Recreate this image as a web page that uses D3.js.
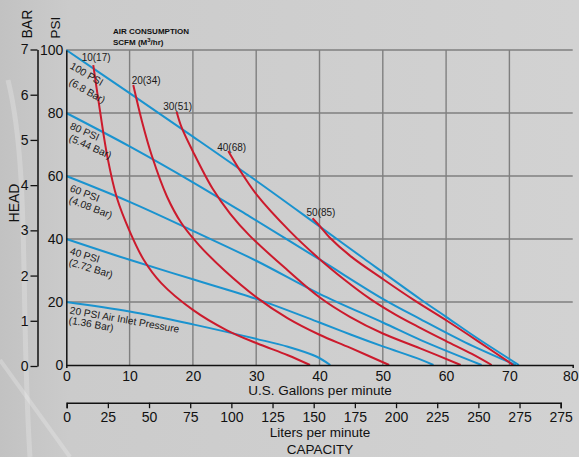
<!DOCTYPE html>
<html><head><meta charset="utf-8">
<script src="https://cdn.jsdelivr.net/npm/d3@7"></script>
<style>
html,body{margin:0;padding:0;background:#cdcdcd;}
svg{display:block;font-family:"Liberation Sans",Arial,Helvetica,sans-serif;}
</style></head><body>
<svg id="chart" width="579" height="457"></svg>
<script>
// ---------- data ----------
const gallonTicks = [0,10,20,30,40,50,60,70,80];
const psiTicks = [0,20,40,60,80,100];
const barTicks = [0,1,2,3,4,5,6,7];
const literTicks = [0,25,50,75,100,125,150,175,200,225,250,275,300];
const literTickLabels = ["0","25","50","75","100","125","150","175","200","225","250","275","275"];

const pressureValues = [100,80,60,40,20];
const pressureNames = ["100 PSI","80 PSI","60 PSI","40 PSI","20 PSI Air Inlet Pressure"];
const pressureBars = ["(6.8 Bar)","(5.44 Bar)","(4.08 Bar)","(2.72 Bar)","(1.36 Bar)"];

// air inlet pressure curves: [gpm, psi head]
const psi100 = [[0,100],[10,86.3],[20,72.5],[30,58.5],[40,44],[47,33.8],[56,20.8],[60,15.3],[65,8.4],[71.5,0]];
const psi80  = [[0,80],[10,69.4],[20,58],[29,47.1],[40,33.5],[50,21],[56,14.5],[63,7.2],[71,0]];
const psi60  = [[0,60],[10,51.8],[20,42.6],[30,33.1],[40,22.6],[50,13.5],[56,7.9],[65.6,0]];
const psi40  = [[0,40],[10,33.4],[20,27.2],[30,21],[40,13.5],[45,9.6],[50,5.9],[55.9,1.8],[58,0]];
const psi20  = [[0,20],[10,17],[20,12.9],[30,8.3],[35,5.8],[39.5,2.7],[41.7,0]];

// air consumption curves (SCFM): [gpm, psi head]
const scfm10 = [[4.26,95.2],[5.3,81],[6.5,66],[8,53],[10,42.5],[12.2,33.5],[15,26],[20,17.5],[25.3,11.1],[30.1,6.9],[35,3.1],[38.5,0]];
const scfm20 = [[10.58,88.9],[12,77],[13.5,66.5],[15.9,53.5],[18.2,45],[21,38],[25,30],[30.1,21.4],[35,14.8],[40,9.6],[44.8,5.5],[51,0]];
const scfm30 = [[17.43,80.4],[18.2,75.5],[20,67.8],[23.1,56],[25.9,48],[29,41],[35,30],[40,21.5],[44.8,15.3],[50,10],[55.9,5.3],[62.3,0]];
const scfm40 = [[25.58,67.9],[27.2,62.5],[30.1,54],[35.3,42.5],[39.8,34],[44,27],[48,21],[52,16],[55.9,11.8],[60,7.6],[64,3.6],[67.2,0]];
const scfm50 = [[38.9,46.6],[40,44.2],[41.6,40.5],[45,34.4],[50,27.3],[55,20.5],[60,14.2],[65,7.6],[70.6,0]];
const scfmLabels = ["10(17)","20(34)","30(51)","40(68)","50(85)"];

// ---------- layout / style ----------
const BLUE = "#1a93cf", RED = "#cc1a2c", GRID = "#7f7f7f";
const X0 = 66.3, X1 = 572.7, Y0 = 365, Y1 = 50;
const scfmLabelOffset = [[-11.6,-4.5],[-1.6,-0.7],[-13.4,-1.7],[-11,-0.5],[-6,-1.8]];
const pLabelAngle = [30,24,21,17,10];
const pLabelDy1 = [18,15.5,15,15,11.5];
const pLabelDy2 = [34,27.5,26.5,26,21.5];

const svg = d3.select("#chart");

// background
const defs = svg.append("defs");
const bg = defs.append("linearGradient").attr("id","bg").attr("x1","0").attr("x2","1").attr("y1","0").attr("y2","0");
bg.append("stop").attr("offset","0%").attr("stop-color","#c2c2c2");
bg.append("stop").attr("offset","12%").attr("stop-color","#cbcbcb");
bg.append("stop").attr("offset","100%").attr("stop-color","#d2d2d2");
svg.append("rect").attr("width",579).attr("height",457).attr("fill","url(#bg)");
// faint light streaks (decoration)
svg.append("path").attr("d","M8,80 C30,170 20,300 30,457").attr("fill","none").attr("stroke","#ffffff").attr("stroke-opacity",0.22).attr("stroke-width",5);
svg.append("path").attr("d","M0,360 L70,457").attr("fill","none").attr("stroke","#ffffff").attr("stroke-opacity",0.22).attr("stroke-width",4);

// scales
const x = d3.scaleLinear().domain([0,80]).range([X0,X1]);
const y = d3.scaleLinear().domain([0,100]).range([Y0,Y1]);
const yBar = d3.scaleLinear().domain([0,7]).range([366,49.5]);
const xLit = d3.scaleLinear().domain([0,300]).range([66.7,560.7]);

// gridlines
svg.append("g").selectAll("line").data(gallonTicks.filter(d=>d>0 && d<80)).join("line")
  .attr("x1",d=>x(d)).attr("x2",d=>x(d)).attr("y1",y(100)).attr("y2",y(0))
  .attr("stroke",GRID).attr("stroke-width",1.4);
svg.append("g").selectAll("line").data(psiTicks.filter(d=>d>0)).join("line")
  .attr("x1",x(0)).attr("x2",x(80)).attr("y1",d=>y(d)).attr("y2",d=>y(d))
  .attr("stroke",GRID).attr("stroke-width",1.4);

// curves
const line = d3.line().x(d=>x(d[0])).y(d=>y(d[1])).curve(d3.curveCatmullRom.alpha(0.5));
const pressureCurves = [psi100,psi80,psi60,psi40,psi20];
const scfmCurves = [scfm10,scfm20,scfm30,scfm40,scfm50];

svg.append("g").selectAll("path").data(pressureCurves).join("path")
  .attr("d",line).attr("fill","none").attr("stroke",BLUE).attr("stroke-width",2);
svg.append("g").selectAll("path").data(scfmCurves).join("path")
  .attr("d",line).attr("fill","none").attr("stroke",RED).attr("stroke-width",2);

// pressure labels
const pl = svg.append("g").attr("font-size",10.2).attr("fill","#1a1a1a");
pressureValues.forEach((p,i)=>{
  const x1 = x(0)+3, y1 = y(p)+pLabelDy1[i];
  const x2 = x(0)+2, y2 = y(p)+pLabelDy2[i];
  pl.append("text").attr("transform",`translate(${x1},${y1}) rotate(${pLabelAngle[i]})`).text(pressureNames[i]);
  pl.append("text").attr("transform",`translate(${x2},${y2}) rotate(${pLabelAngle[i]})`).text(pressureBars[i]);
});

// scfm labels
svg.append("g").attr("font-size",10).attr("fill","#1a1a1a").selectAll("text").data(scfmCurves).join("text")
  .attr("x",(d,i)=>x(d[0][0])+scfmLabelOffset[i][0])
  .attr("y",(d,i)=>y(d[0][1])+scfmLabelOffset[i][1])
  .text((d,i)=>scfmLabels[i]);

// axes
function styleAxis(g){
  g.selectAll("path.domain").attr("stroke","#111").attr("stroke-width",1.5);
  g.selectAll(".tick line").attr("stroke","#111").attr("stroke-width",1.3);
  g.selectAll("text").attr("fill","#111").attr("font-size",14).attr("font-family",null);
}
// PSI axis
svg.append("g").attr("transform",`translate(${X0},0)`)
  .call(d3.axisLeft(y).tickValues(psiTicks).tickSizeInner(0).tickSizeOuter(0).tickPadding(3))
  .call(styleAxis);
// BAR axis
svg.append("g").attr("transform","translate(37.5,0)")
  .call(d3.axisLeft(yBar).tickValues(barTicks).tickSizeInner(7).tickSizeOuter(0).tickPadding(2).tickFormat(d3.format("d")))
  .call(styleAxis);
// gallons axis
const gx = svg.append("g").attr("transform",`translate(0,${Y0})`)
  .call(d3.axisBottom(x).tickValues(gallonTicks).tickSizeInner(0).tickSizeOuter(3).tickPadding(6.5))
  .call(styleAxis);
gx.selectAll(".tick text").filter(d=>d===80).attr("dx",-2.5);
// liters axis
svg.append("g").attr("transform","translate(0,402.7)")
  .call(d3.axisBottom(xLit).tickValues(literTicks).tickSizeInner(5.5).tickSizeOuter(5.5).tickPadding(3.5)
        .tickFormat((d,i)=>literTickLabels[i]))
  .call(styleAxis);

// titles
const t = svg.append("g").attr("fill","#111");
t.append("text").attr("x",320).attr("y",395).attr("text-anchor","middle").attr("font-size",13.5).text("U.S. Gallons per minute");
t.append("text").attr("x",320).attr("y",437).attr("text-anchor","middle").attr("font-size",13.5).text("Liters per minute");
t.append("text").attr("x",320).attr("y",454).attr("text-anchor","middle").attr("font-size",13.5).text("CAPACITY");
t.append("text").attr("transform","translate(18.5,203) rotate(-90)").attr("text-anchor","middle").attr("font-size",14).text("HEAD");
t.append("text").attr("transform","translate(31.5,38.5) rotate(-90)").attr("font-size",14).text("BAR");
t.append("text").attr("transform","translate(60,38.5) rotate(-90)").attr("font-size",13.5).text("PSI");
t.append("text").attr("x",113).attr("y",34).attr("font-size",8).attr("font-weight","bold").text("AIR CONSUMPTION");
const s = t.append("text").attr("x",113).attr("y",44.5).attr("font-size",8).attr("font-weight","bold");
s.append("tspan").text("SCFM (M");
s.append("tspan").attr("font-size",6).attr("dy",-3).text("3");
s.append("tspan").attr("dy",3).text("/hr)");
</script>
</body></html>
